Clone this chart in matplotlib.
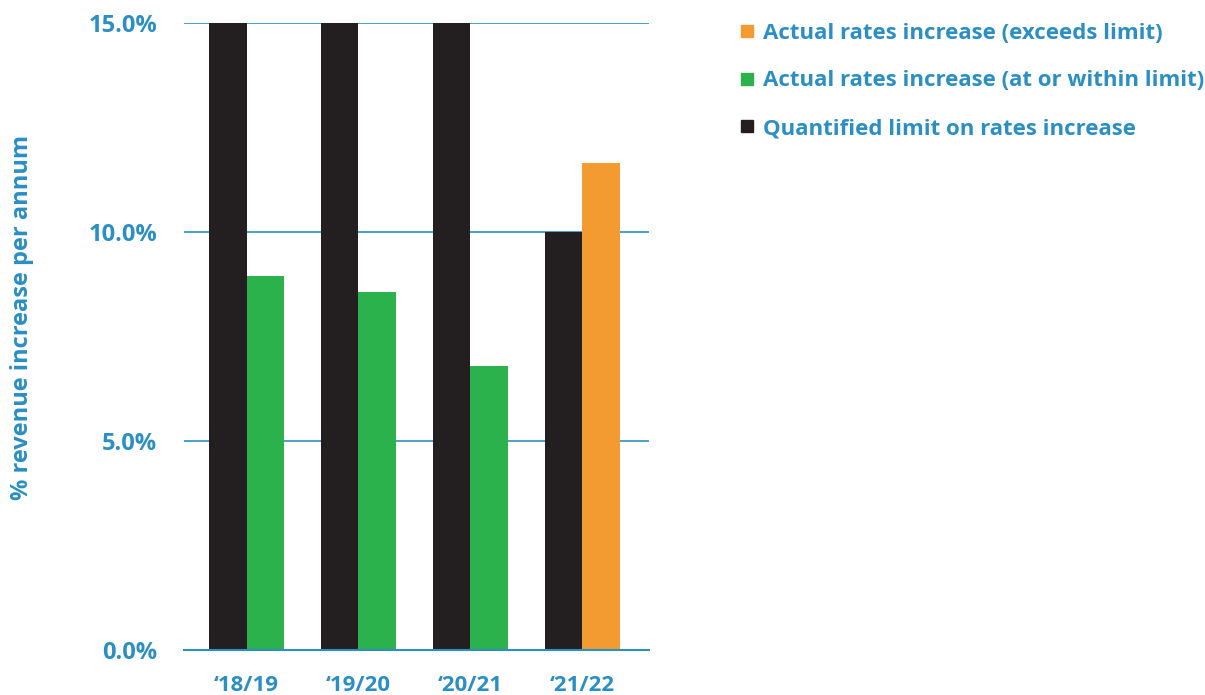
import matplotlib
matplotlib.use("Agg")
import matplotlib.pyplot as plt
from matplotlib.lines import Line2D
import numpy as np

categories = ["\u201818/19", "\u201819/20", "\u201820/21", "\u201821/22"]
limit = [15.0, 15.0, 15.0, 10.0]
actual = [8.95, 8.56, 6.79, 11.65]
exceeds = [False, False, False, True]
yticks = [0, 5, 10, 15]

BLUE = "#2b8fc4"
BLACK = "#231f20"
GREEN = "#2bb24c"
ORANGE = "#f39a31"

plt.rcParams['font.family'] = ['Open Sans', 'DejaVu Sans']

fig = plt.figure(figsize=(12.05, 6.95), dpi=100)
ax = fig.add_axes([0.1527, 0.0647, 0.386, 0.9023])

x = np.arange(len(categories))
w = 0.335
ax.bar(x - w/2, limit, width=w, color=BLACK, zorder=3)
ax.bar(x + w/2, actual, width=w, color=[ORANGE if e else GREEN for e in exceeds], zorder=3)

ax.set_xlim(-0.56, 3.6)
ax.set_ylim(0, 15)
ax.set_yticks(yticks)
ax.set_yticklabels([f"{v:.1f}%" for v in yticks])
ax.set_xticks(x)
ax.set_xticklabels(categories)
for sp in ["top", "right", "left"]:
    ax.spines[sp].set_visible(False)
ax.spines["bottom"].set_color(BLUE)
ax.spines["bottom"].set_linewidth(1.5)
ax.spines["bottom"].set_zorder(4)
ax.yaxis.grid(True, color=BLUE, linewidth=1.2, zorder=0)
ax.set_axisbelow(True)
ax.tick_params(axis='y', length=0, labelsize=17, labelcolor=BLUE, pad=19.5)
ax.tick_params(axis='x', length=0, labelsize=16, labelcolor=BLUE, pad=18)
for lbl in ax.get_xticklabels() + ax.get_yticklabels():
    lbl.set_fontweight('bold')
ax.set_ylabel("% revenue increase per annum", color=BLUE, fontsize=17,
              fontweight='bold', va='center')
ax.yaxis.set_label_coords(-0.348, 0.53)

handles = [
    Line2D([], [], marker='s', linestyle='none', markersize=8, color=ORANGE),
    Line2D([], [], marker='s', linestyle='none', markersize=8, color=GREEN),
    Line2D([], [], marker='s', linestyle='none', markersize=8, color=BLACK),
]
labels = ["Actual rates increase (exceeds limit)",
          "Actual rates increase (at or within limit)",
          "Quantified limit on rates increase"]
leg = fig.legend(handles, labels, loc='upper left', bbox_to_anchor=(0.607, 0.98),
                 frameon=False, fontsize=16, handlelength=0.6, handletextpad=0.4,
                 labelspacing=1.2, borderaxespad=0)
for t in leg.get_texts():
    t.set_color(BLUE)
    t.set_fontweight('bold')

fig.savefig("out.png", dpi=100)
